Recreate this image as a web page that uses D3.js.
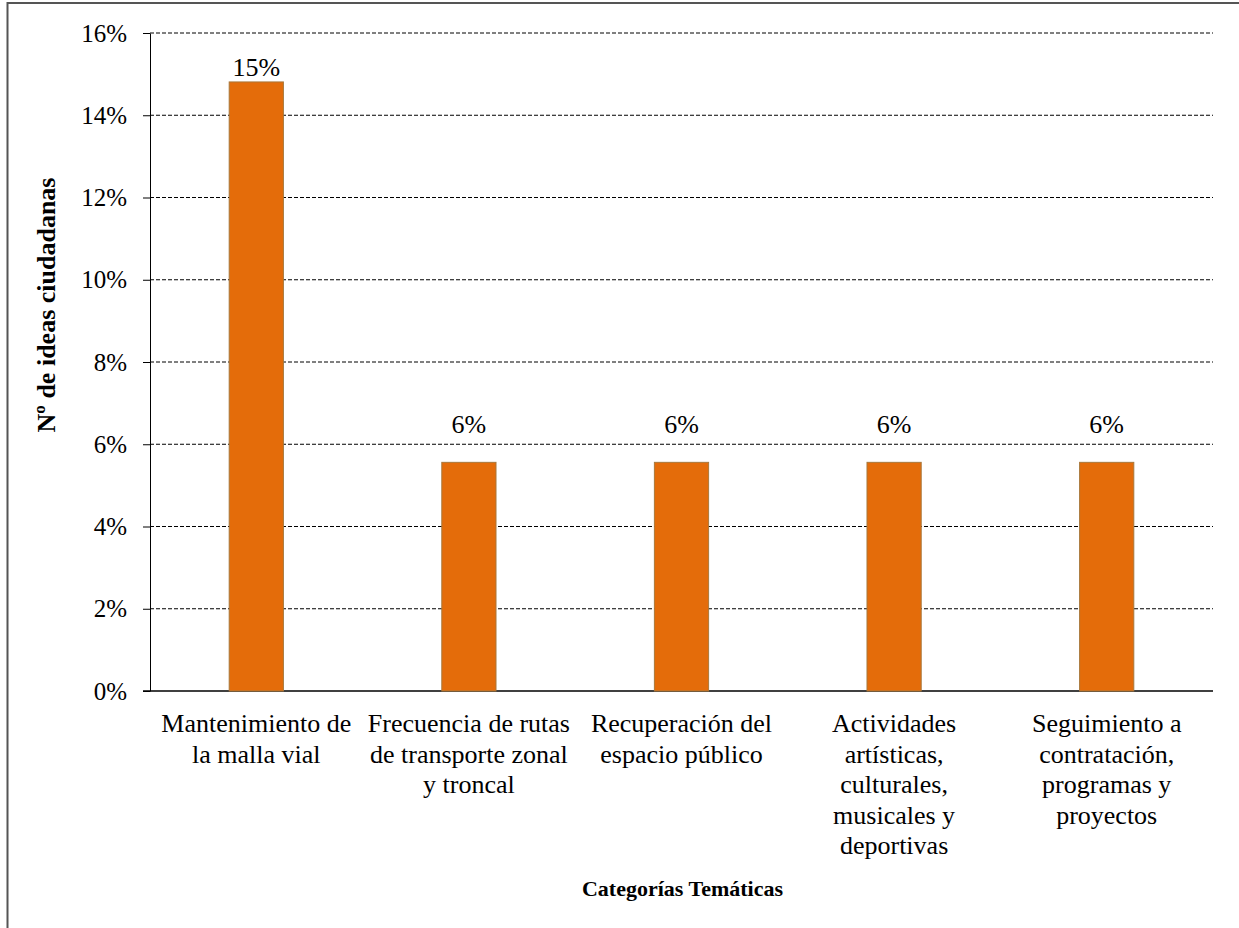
<!DOCTYPE html>
<html>
<head>
<meta charset="utf-8">
<script src="https://cdn.jsdelivr.net/npm/d3@7"></script>
<style>
  body { margin: 0; background: #fff; }
  svg { display: block; font-family: "Liberation Serif", "Times New Roman", serif; }
</style>
</head>
<body>
<svg id="chart" width="1239" height="928"></svg>
<script>
// data
const categories = [
  'Mantenimiento de la malla vial',
  'Frecuencia de rutas de transporte zonal y troncal',
  'Recuperación del espacio público',
  'Actividades artísticas, culturales, musicales y deportivas',
  'Seguimiento a contratación, programas y proyectos'
];
const categoryLines = [
  ['Mantenimiento de', 'la malla vial'],
  ['Frecuencia de rutas', 'de transporte zonal', 'y troncal'],
  ['Recuperación del', 'espacio público'],
  ['Actividades', 'artísticas,', 'culturales,', 'musicales y', 'deportivas'],
  ['Seguimiento a', 'contratación,', 'programas y', 'proyectos']
];
const shares = [0.1481, 0.0556, 0.0556, 0.0556, 0.0556];
const valueLabels = ['15%', '6%', '6%', '6%', '6%'];
const yTicks = [0, 0.02, 0.04, 0.06, 0.08, 0.10, 0.12, 0.14, 0.16];

const yTitle = 'Nº de ideas ciudadanas';
const xTitle = 'Categorías Temáticas';

// layout
const margin = { top: 33, right: 26, bottom: 237, left: 150 };
const labelGap = [6, 29, 29, 29, 29]; // label distance above bar

const svg = d3.select('#chart');
const width = +svg.attr('width') - margin.left - margin.right;
const height = +svg.attr('height') - margin.top - margin.bottom;

// outer frame (cut by the page edges)
svg.append('rect')
  .attr('x', 7.5).attr('y', 3)
  .attr('width', 1300).attr('height', 1000)
  .attr('fill', 'none')
  .attr('stroke', '#555')
  .attr('stroke-width', 2);

const g = svg.append('g')
  .attr('transform', `translate(${margin.left},${margin.top})`);

const x = d3.scaleBand()
  .domain(categories)
  .range([0, width])
  .paddingInner(0.745)
  .paddingOuter(0.3725);

const y = d3.scaleLinear()
  .domain([0, 0.16])
  .range([height, 0]);

// gridlines
g.append('g')
  .attr('class', 'grid')
  .selectAll('line')
  .data(yTicks.filter(d => d > 0))
  .enter()
  .append('line')
    .attr('x1', 0).attr('x2', width)
    .attr('y1', d => y(d)).attr('y2', d => y(d))
    .attr('stroke', '#000')
    .attr('stroke-width', 1)
    .attr('stroke-dasharray', '4,2');

// y axis
const yAxis = g.append('g')
  .call(d3.axisLeft(y)
    .tickValues(yTicks)
    .tickFormat(d3.format('.0%'))
    .tickSize(7)
    .tickSizeOuter(0)
    .tickPadding(16));
yAxis.select('.domain').attr('stroke', '#000');
yAxis.selectAll('.tick line').attr('stroke', '#000');
yAxis.selectAll('.tick text')
  .attr('font-family', '"Liberation Serif", serif')
  .attr('font-size', 25)
  .attr('fill', '#000');

// x axis baseline
g.append('line')
  .attr('x1', -7).attr('x2', width)
  .attr('y1', height).attr('y2', height)
  .attr('stroke', '#000')
  .attr('stroke-width', 1.5);

// bars
g.selectAll('rect.bar')
  .data(shares)
  .enter()
  .append('rect')
    .attr('class', 'bar')
    .attr('x', (d, i) => x(categories[i]))
    .attr('y', d => y(d))
    .attr('width', x.bandwidth())
    .attr('height', d => height - y(d))
    .attr('fill', '#e46c0a')
    .attr('stroke', '#a8783c')
    .attr('stroke-width', 1);

// value labels
g.selectAll('text.value')
  .data(shares)
  .enter()
  .append('text')
    .attr('class', 'value')
    .attr('x', (d, i) => x(categories[i]) + x.bandwidth() / 2)
    .attr('y', (d, i) => y(d) - labelGap[i])
    .attr('text-anchor', 'middle')
    .attr('font-size', 26)
    .text((d, i) => valueLabels[i]);

// category labels
const cats = g.selectAll('g.cat')
  .data(categories)
  .enter()
  .append('g')
    .attr('class', 'cat')
    .attr('transform', d => `translate(${x(d) + x.bandwidth() / 2},${height})`);

cats.selectAll('text')
  .data((d, i) => categoryLines[i])
  .enter()
  .append('text')
    .attr('text-anchor', 'middle')
    .attr('font-size', 26)
    .attr('y', (d, i) => 41 + i * 30.5)
    .text(d => d);

// axis titles
svg.append('text')
  .attr('x', margin.left + width / 2 + 1)
  .attr('y', 896)
  .attr('text-anchor', 'middle')
  .attr('font-size', 22)
  .attr('font-weight', 'bold')
  .text(xTitle);

svg.append('text')
  .attr('transform', 'translate(55,305) rotate(-90)')
  .attr('text-anchor', 'middle')
  .attr('font-size', 26)
  .attr('font-weight', 'bold')
  .text(yTitle);
</script>
</body>
</html>
